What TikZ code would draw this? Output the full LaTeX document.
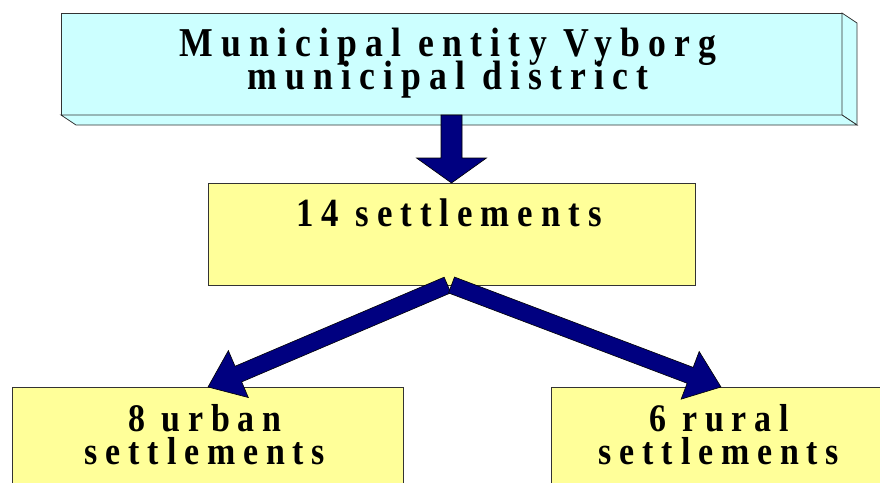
\documentclass[tikz,border=0pt]{standalone}
\usepackage{fontspec}
\setmainfont{Liberation Serif}
\newfontfamily\boxfont{Liberation Serif}[UprightFont={* Bold},FakeStretch=0.87,LetterSpace=20]
\usetikzlibrary{calc}

\definecolor{paleCyan}{HTML}{CCFFFF}
\definecolor{paleYellow}{HTML}{FFFF99}
\definecolor{arrowNavy}{HTML}{000080}

% let lines sit at their fixed baseline distance even when glyphs crowd
\newcommand\tightlines{\lineskiplimit-1000pt\relax}

\tikzset{
  flatbox/.style={draw=black!80,line width=0.8pt,inner sep=0pt,outer sep=0pt,rectangle},
  cyanbox/.style={flatbox,fill=paleCyan},
  yellowbox/.style={flatbox,fill=paleYellow},
  % base anchor of a two-line label is the baseline of its last line
  lbl/.style={inner sep=0pt,anchor=base,align=center,
    font=\boxfont\fontsize{41}{33}\selectfont\tightlines},
  mlbl/.style={lbl,font=\boxfont\fontsize{40}{33}\selectfont\tightlines},
  slbl/.style={lbl,font=\boxfont\fontsize{39}{33}\selectfont\tightlines},
  arrowbody/.style={fill=arrowNavy,draw=black,line width=0.6pt,line join=miter},
}

% block arrow from #1 (middle of the flat end) to #2 (tip)
% #3 shaft half width, #4 head half width, #5 head length
\newcommand\blockarrow[5]{%
  \coordinate (ba-s) at (#1);
  \coordinate (ba-t) at (#2);
  \coordinate (ba-b) at ($(ba-t)!#5!(ba-s)$);
  \path[arrowbody]
    ($(ba-s)!#3!90:(ba-t)$) --
    ($(ba-b)!#3!-90:(ba-s)$) --
    ($(ba-b)!#4!-90:(ba-s)$) --
    (ba-t) --
    ($(ba-b)!#4!90:(ba-s)$) --
    ($(ba-b)!#3!90:(ba-s)$) --
    ($(ba-s)!#3!-90:(ba-t)$) -- cycle;
}

\begin{document}
\begin{tikzpicture}[x=1pt,y=-1pt]
  \useasboundingbox (0,0) rectangle (880,482);
  \clip (0,0) rectangle (880,482);

  % top box with its bevelled right and bottom faces
  \node[cyanbox,minimum width=781pt,minimum height=102pt,anchor=north west] (top) at (61,13) {};
  \draw[cyanbox] (top.north east) -- ++(15,10) -- ($(top.south east)+(15,10)$) -- (top.south east) -- cycle;
  \draw[cyanbox] (top.south west) -- (top.south east) -- ++(15,10) -- ($(top.south west)+(15,10)$) -- cycle;
  \node[lbl] (topT) at (448,89) {Municipal entity Vyborg\\municipal district};

  % middle box
  \node[yellowbox,minimum width=487pt,minimum height=102pt,anchor=north west] (mid) at (208,183) {};
  \node[mlbl] (midT) at (449,226) {14 settlements};

  % lower boxes (running off the bottom edge)
  \node[yellowbox,minimum width=391pt,minimum height=130pt,anchor=north west] (urb) at (12,387) {};
  \node[yellowbox,minimum width=391pt,minimum height=130pt,anchor=north west] (rur) at (551,387) {};
  \node[slbl] (urbT) at (205,464) {8 urban\\settlements};
  \node[slbl] (rurT) at (719,464) {6 rural\\settlements};

  % arrows
  \coordinate (midL) at ($(mid.south)+(-4,0)$);
  \coordinate (midR) at ($(mid.south)+(0,0)$);
  \coordinate (urbTip) at ($(urb.north west)+(196,0)$);
  \coordinate (rurTip) at ($(rur.north west)+(170,0)$);
  \blockarrow{top.south}{mid.north}{10.5pt}{35pt}{25pt}
  \blockarrow{midL}{urbTip}{8.5pt}{25.5pt}{33pt}
  \blockarrow{midR}{rurTip}{8.5pt}{25.5pt}{33pt}
\end{tikzpicture}
\end{document}
